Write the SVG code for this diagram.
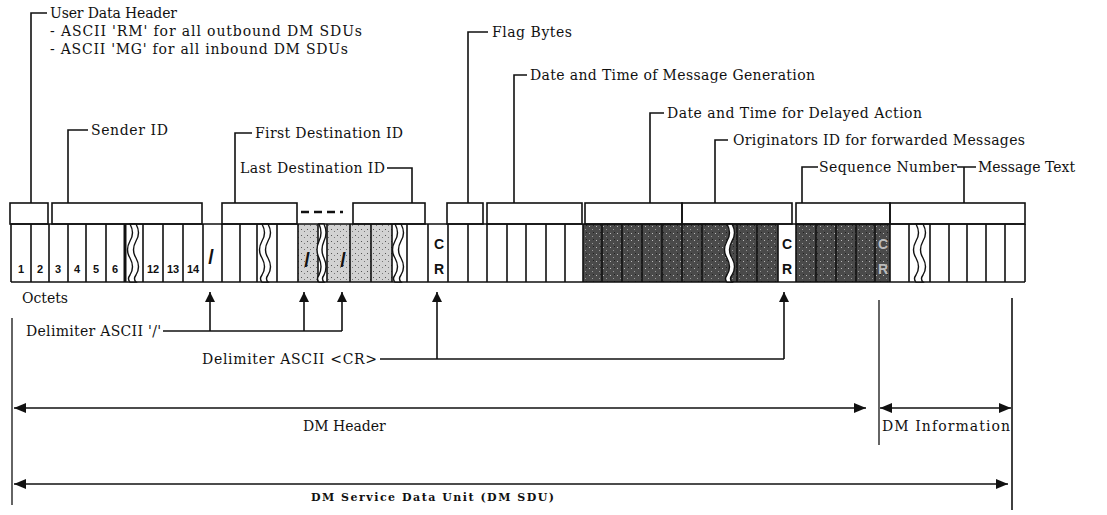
<svg xmlns="http://www.w3.org/2000/svg" width="1107" height="515" viewBox="0 0 1107 515">
<defs>
<style>
.t{font-family:"DejaVu Serif","Liberation Serif",serif;font-size:14px;fill:#111}
.b{font-family:"DejaVu Serif","Liberation Serif",serif;font-size:11px;font-weight:bold;fill:#111}
.ln{stroke:#111;stroke-width:1.6;fill:none}
.bx{stroke:#111;stroke-width:1.6;fill:none}
.n{font-family:"Liberation Sans",Arial,sans-serif;font-weight:bold;font-size:11px;text-anchor:middle;fill:#111}
.cr{font-family:"Liberation Sans",Arial,sans-serif;font-weight:bold;font-size:14px;text-anchor:middle;fill:#111}
.crl{font-family:"Liberation Sans",Arial,sans-serif;font-weight:bold;font-size:14px;text-anchor:middle;fill:#bbb}
.sl{font-family:"Liberation Sans",Arial,sans-serif;font-weight:bold;font-size:20px;text-anchor:middle;fill:#111}
.wv{stroke:#111;stroke-width:1.4;fill:#fff}
</style>
<pattern id="dark" width="7" height="7" patternUnits="userSpaceOnUse">
<rect width="7" height="7" fill="#4a4a4a"/>
<rect x="1" y="2" width="1" height="1" fill="#bbb"/>
<rect x="4" y="5" width="1" height="1" fill="#999"/>
<rect x="5" y="1" width="1" height="1" fill="#222"/>
</pattern>
<pattern id="light" width="6" height="6" patternUnits="userSpaceOnUse">
<rect width="6" height="6" fill="#d2d2d2"/>
<rect x="1" y="1" width="1" height="1" fill="#555"/>
<rect x="4" y="3" width="1" height="1" fill="#777"/>
</pattern>
<marker id="ah" viewBox="0 0 12 10" refX="12" refY="5" markerWidth="12" markerHeight="10" markerUnits="userSpaceOnUse" orient="auto-start-reverse">
<path d="M0,0 L12,5 L0,10 z" fill="#111"/>
</marker>
<marker id="up" viewBox="0 0 10 10" refX="10" refY="5" markerWidth="10" markerHeight="10" markerUnits="userSpaceOnUse" orient="auto">
<path d="M0,0 L10,5 L0,10 z" fill="#111"/>
</marker>
</defs>
<rect width="1107" height="515" fill="#fff"/>

<g id="octet-row">
<rect x="298" y="224" width="20" height="58" fill="url(#light)"/>
<rect x="327" y="224" width="65" height="58" fill="url(#light)"/>
<rect x="583" y="224" width="195" height="58" fill="url(#dark)"/>
<rect x="796" y="224" width="94" height="58" fill="url(#dark)"/>
<path class="ln" d="M11,224 H1025 M11,282 H1025 M11,224 V282 M1025,224 V282"/>
<path class="ln" d="M31,224V282 M49,224V282 M68,224V282 M86,224V282 M106,224V282 M143,224V282 M163,224V282 M183,224V282 M203,224V282 M222,224V282 M240,224V282 M257,224V282 M277,224V282 M298,224V282 M318,224V282 M327,224V282 M350,224V282 M371,224V282 M392,224V282 M407,224V282 M428,224V282 M448,224V282 M468,224V282 M487,224V282 M507,224V282 M526,224V282 M546,224V282 M565,224V282 M583,224V282 M602,224V282 M622,224V282 M642,224V282 M662,224V282 M682,224V282 M702,224V282 M737,224V282 M757,224V282 M778,224V282 M796,224V282 M816,224V282 M836,224V282 M856,224V282 M875,224V282 M890,224V282 M909,224V282 M930,224V282 M949,224V282 M967,224V282 M986,224V282 M1005,224V282"/>
<path d="M125,224V282" stroke="#111" stroke-width="3"/>
<g class="wv">
<path d="M130,224 q5,9 0,17 q-5,9 0,17 q5,9 0,17 q-3,4 0,7 h6 q-3,-3 0,-7 q5,-8 0,-17 q-5,-8 0,-17 q5,-8 0,-17 z"/>
<path d="M262,224 q5,9 0,17 q-5,9 0,17 q5,9 0,17 q-3,4 0,7 h6 q-3,-3 0,-7 q5,-8 0,-17 q-5,-8 0,-17 q5,-8 0,-17 z"/>
<path d="M319,224 q4,9 0,17 q-4,9 0,17 q4,9 0,17 q-3,4 0,7 h5 q-3,-3 0,-7 q4,-8 0,-17 q-4,-8 0,-17 q4,-8 0,-17 z"/>
<path d="M395,224 q5,9 0,17 q-5,9 0,17 q5,9 0,17 q-3,4 0,7 h6 q-3,-3 0,-7 q5,-8 0,-17 q-5,-8 0,-17 q5,-8 0,-17 z"/>
<path d="M727,224 q5,9 0,17 q-5,9 0,17 q5,9 0,17 q-3,4 0,7 h5 q-3,-3 0,-7 q5,-8 0,-17 q-5,-8 0,-17 q5,-8 0,-17 z"/>
<path d="M916,224 q5,9 0,17 q-5,9 0,17 q5,9 0,17 q-3,4 0,7 h7 q-3,-3 0,-7 q5,-8 0,-17 q-5,-8 0,-17 q5,-8 0,-17 z"/>
</g>
<text class="n" x="21" y="273">1</text>
<text class="n" x="40" y="273">2</text>
<text class="n" x="58" y="273">3</text>
<text class="n" x="77" y="273">4</text>
<text class="n" x="96" y="273">5</text>
<text class="n" x="115" y="273">6</text>
<text class="n" x="153" y="273">12</text>
<text class="n" x="173" y="273">13</text>
<text class="n" x="193" y="273">14</text>
<text class="sl" x="211" y="264">/</text>
<text class="sl" x="307" y="267">/</text>
<text class="sl" x="343" y="267">/</text>
<text class="cr" x="439" y="249">C</text>
<text class="cr" x="439" y="274">R</text>
<text class="cr" x="787" y="249">C</text>
<text class="cr" x="787" y="274">R</text>
<text class="crl" x="883" y="249">C</text>
<text class="crl" x="883" y="274">R</text>
</g>

<g id="user-data-header">
<rect class="bx" x="10" y="203" width="38" height="21"/>
<path class="ln" d="M31,203 V13 H47"/>
<text class="t" x="50" y="18" textLength="127">User Data Header</text>
<text class="t" x="50" y="36" textLength="312">- ASCII 'RM' for all outbound DM SDUs</text>
<text class="t" x="50" y="54" textLength="298">- ASCII 'MG' for all inbound DM SDUs</text>
</g>
<g id="sender-id">
<rect class="bx" x="52" y="203" width="150" height="21"/>
<path class="ln" d="M68,203 V130 H88"/>
<text class="t" x="91" y="135" textLength="77">Sender ID</text>
</g>
<g id="first-destination-id">
<rect class="bx" x="222" y="203" width="75" height="21"/>
<path class="ln" d="M235,203 V133 H252"/>
<text class="t" x="255" y="138" textLength="148">First Destination ID</text>
</g>
<g id="more-destinations">
<path d="M301,212 H343" stroke="#111" stroke-width="2.5" stroke-dasharray="8,5"/>
</g>
<g id="last-destination-id">
<rect class="bx" x="353" y="203" width="72" height="21"/>
<path class="ln" d="M412,203 V168 H387"/>
<text class="t" x="240" y="173" textLength="145">Last Destination ID</text>
</g>
<g id="flag-bytes">
<rect class="bx" x="447" y="203" width="36" height="21"/>
<path class="ln" d="M468,203 V32 H488"/>
<text class="t" x="492" y="37" textLength="80">Flag Bytes</text>
</g>
<g id="date-time-generation">
<rect class="bx" x="487" y="203" width="95" height="21"/>
<path class="ln" d="M514,203 V75 H527"/>
<text class="t" x="530" y="80" textLength="285">Date and Time of Message Generation</text>
</g>
<g id="date-time-delayed">
<rect class="bx" x="585" y="203" width="97" height="21"/>
<path class="ln" d="M650,203 V113 H664"/>
<text class="t" x="667" y="118" textLength="255">Date and Time for Delayed Action</text>
</g>
<g id="originators-id">
<rect class="bx" x="682" y="203" width="110" height="21"/>
<path class="ln" d="M715,203 V140 H728"/>
<text class="t" x="733" y="145" textLength="292">Originators ID for forwarded Messages</text>
</g>
<g id="sequence-number">
<rect class="bx" x="796" y="203" width="94" height="21"/>
<path class="ln" d="M802,203 V167 H818"/>
<text class="t" x="819" y="172" textLength="138">Sequence Number</text>
</g>
<g id="message-text">
<rect class="bx" x="890" y="203" width="135" height="21"/>
<path class="ln" d="M964,203 V167 M957,167 H976"/>
<text class="t" x="978" y="172">Message Text</text>
</g>

<g id="labels">
<text class="t" x="22" y="303">Octets</text>
<text class="t" x="26" y="336" textLength="135">Delimiter ASCII '/'</text>
<text class="t" x="202" y="364" textLength="175">Delimiter ASCII &lt;CR&gt;</text>
<text class="t" x="303" y="431">DM Header</text>
<text class="t" x="882" y="431" textLength="128">DM Information</text>
<text class="b" x="311" y="501" textLength="243">DM Service Data Unit (DM SDU)</text>
</g>

<g id="connectors">
<path class="ln" d="M163,331 H342"/>
<path class="ln" d="M210,331 V292" marker-end="url(#up)"/>
<path class="ln" d="M304,331 V292" marker-end="url(#up)"/>
<path class="ln" d="M342,331 V292" marker-end="url(#up)"/>
<path class="ln" d="M380,359 H784"/>
<path class="ln" d="M437,359 V292" marker-end="url(#up)"/>
<path class="ln" d="M784,359 V292" marker-end="url(#up)"/>
<path d="M12,318 V505" stroke="#111" stroke-width="1.3"/>
<path d="M879,300 V445" stroke="#111" stroke-width="1.3"/>
<path d="M1012,298 V510" stroke="#111" stroke-width="1.6"/>
<path class="ln" d="M14,408 H866" marker-start="url(#ah)" marker-end="url(#ah)"/>
<path class="ln" d="M880,408 H1011" marker-start="url(#ah)" marker-end="url(#ah)"/>
<path class="ln" d="M14,484 H1008" marker-start="url(#ah)" marker-end="url(#ah)"/>
</g>
</svg>
